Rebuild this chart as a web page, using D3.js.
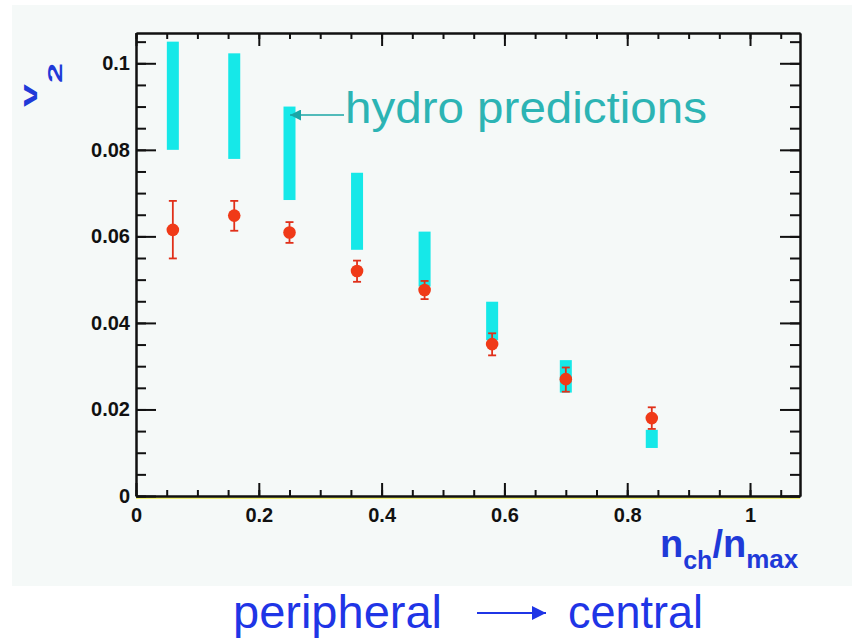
<!DOCTYPE html>
<html>
<head>
<meta charset="utf-8">
<script src="https://cdn.jsdelivr.net/npm/d3@7"></script>
<style>
  html, body { margin: 0; padding: 0; background: #ffffff; }
  svg { display: block; }
</style>
</head>
<body>
<script>
// ---- data ----
const xPos      = [0.06, 0.16, 0.25, 0.36, 0.47, 0.58, 0.70, 0.84];
const hydroHigh = [0.105, 0.1023, 0.090, 0.0747, 0.0611, 0.0449, 0.0314, 0.0153];
const hydroLow  = [0.080, 0.0779, 0.0684, 0.0569, 0.0484, 0.0360, 0.0239, 0.0111];
const v2Values  = [0.0615, 0.0648, 0.0609, 0.0520, 0.0476, 0.0351, 0.0270, 0.0180];
const v2ErrHigh = [0.0682, 0.0682, 0.0633, 0.0544, 0.0497, 0.0376, 0.0297, 0.0205];
const v2ErrLow  = [0.0549, 0.0613, 0.0585, 0.0495, 0.0455, 0.0325, 0.0241, 0.0155];
const yTickVals = [0, 0.02, 0.04, 0.06, 0.08, 0.1];
const yTickLabels = ["0", "0.02", "0.04", "0.06", "0.08", "0.1"];
const xTickVals = [0, 0.2, 0.4, 0.6, 0.8, 1];
const xTickLabels = ["0", "0.2", "0.4", "0.6", "0.8", "1"];

const W = 857, H = 639;
const L = 136, R = 800, T = 33, B = 496;

const svg = d3.select("body").append("svg").attr("width", W).attr("height", H);

// panel background
svg.append("rect").attr("x", 12).attr("y", 5).attr("width", 840).attr("height", 581)
   .attr("fill", "#f5f9f8");

const x = d3.scaleLinear().domain([0, 1.0814]).range([L, R]);
const y = d3.scaleLinear().domain([0, 0.107]).range([B, T]);

const font = "'Liberation Sans', Arial, Helvetica, sans-serif";

// yellow line under x axis
svg.append("line").attr("x1", L).attr("x2", R).attr("y1", B + 2).attr("y2", B + 2)
   .attr("stroke", "#f0f070").attr("stroke-width", 2);

// hydro bars
svg.append("g").selectAll("rect").data(xPos).join("rect")
   .attr("x", (d) => x(d) - 6)
   .attr("width", 12)
   .attr("y", (d, i) => y(hydroHigh[i]))
   .attr("height", (d, i) => y(hydroLow[i]) - y(hydroHigh[i]))
   .attr("fill", "#16e8e8");

// error bars
const eg = svg.append("g").attr("stroke", "#e0301a").attr("stroke-width", 1.8);
xPos.forEach((d, i) => {
  eg.append("line").attr("x1", x(d)).attr("x2", x(d)).attr("y1", y(v2ErrHigh[i])).attr("y2", y(v2ErrLow[i]));
  eg.append("line").attr("x1", x(d) - 4).attr("x2", x(d) + 4).attr("y1", y(v2ErrHigh[i])).attr("y2", y(v2ErrHigh[i]));
  eg.append("line").attr("x1", x(d) - 4).attr("x2", x(d) + 4).attr("y1", y(v2ErrLow[i])).attr("y2", y(v2ErrLow[i]));
});
svg.append("g").selectAll("circle").data(xPos).join("circle")
   .attr("cx", (d) => x(d)).attr("cy", (d, i) => y(v2Values[i])).attr("r", 6.3)
   .attr("fill", "#f03a18");

// axes
function styleAxis(g) {
  g.select(".domain").attr("stroke", "#111").attr("stroke-width", 2);
  g.selectAll(".tick line").attr("stroke", "#111").attr("stroke-width", 2);
  g.selectAll("text").attr("font-family", font).attr("font-weight", "bold")
   .attr("font-size", 20).attr("fill", "#111");
}
const xMinor = d3.range(0, 1.08, 0.05);
const yMinor = d3.range(0, 0.1071, 0.005);

// bottom
svg.append("g").attr("transform", `translate(0,${B})`)
   .call(d3.axisBottom(x).tickValues(xMinor).tickSize(-6).tickFormat("").tickSizeOuter(0)).call(styleAxis);
svg.append("g").attr("transform", `translate(0,${B})`)
   .call(d3.axisBottom(x).tickValues(xTickVals).tickSize(-13).tickPadding(12).tickSizeOuter(0)
   .tickFormat((d, i) => xTickLabels[i])).call(styleAxis);
// top
svg.append("g").attr("transform", `translate(0,${T})`)
   .call(d3.axisTop(x).tickValues(xMinor).tickSize(-6).tickFormat("").tickSizeOuter(0)).call(styleAxis);
svg.append("g").attr("transform", `translate(0,${T})`)
   .call(d3.axisTop(x).tickValues(xTickVals).tickSize(-13).tickFormat("").tickSizeOuter(0)).call(styleAxis);
// left
svg.append("g").attr("transform", `translate(${L},0)`)
   .call(d3.axisLeft(y).tickValues(yMinor).tickSize(-10).tickFormat("").tickSizeOuter(0)).call(styleAxis);
svg.append("g").attr("transform", `translate(${L},0)`)
   .call(d3.axisLeft(y).tickValues(yTickVals).tickSize(-20).tickPadding(6).tickSizeOuter(0)
   .tickFormat((d, i) => yTickLabels[i])).call(styleAxis);
// right
svg.append("g").attr("transform", `translate(${R},0)`)
   .call(d3.axisRight(y).tickValues(yMinor).tickSize(-10).tickFormat("").tickSizeOuter(0)).call(styleAxis);
svg.append("g").attr("transform", `translate(${R},0)`)
   .call(d3.axisRight(y).tickValues(yTickVals).tickSize(-20).tickFormat("").tickSizeOuter(0)).call(styleAxis);

// hydro annotation
const defs = svg.append("defs");
defs.append("marker").attr("id", "ah").attr("viewBox", "0 0 10 10").attr("refX", 10).attr("refY", 5)
   .attr("markerWidth", 16).attr("markerHeight", 11).attr("markerUnits", "userSpaceOnUse")
   .attr("orient", "auto")
   .append("path").attr("d", "M0,0 L10,5 L0,10 Z").attr("fill", "#1aa6a6");
svg.append("line").attr("x1", 344).attr("x2", 290).attr("y1", 115).attr("y2", 115)
   .attr("stroke", "#1aa6a6").attr("stroke-width", 1.6).attr("marker-end", "url(#ah)");
svg.append("text").attr("x", 345).attr("y", 123).attr("font-family", font).attr("font-size", 44)
   .attr("fill", "#2cb4b4").attr("textLength", 362).attr("lengthAdjust", "spacingAndGlyphs")
   .text("hydro predictions");

// y title v2 (rotated, stretched along text direction)
const vt = svg.append("text").attr("transform", "translate(37,107) rotate(-90) scale(1.8,1)")
   .attr("font-family", font).attr("font-weight", "bold").attr("fill", "#1f3ad8");
vt.append("tspan").attr("font-size", 23).text("v");
vt.append("tspan").attr("font-size", 20).attr("dx", 0.5).attr("dy", 25).text("2");

// x title n_ch / n_max
const xt = svg.append("text").attr("x", 660).attr("y", 557)
   .attr("font-family", font).attr("font-weight", "bold").attr("fill", "#1f3ad8");
xt.append("tspan").attr("font-size", 38).text("n");
xt.append("tspan").attr("font-size", 25).attr("dy", 12).text("ch");
xt.append("tspan").attr("font-size", 38).attr("dy", -12).text("/n");
xt.append("tspan").attr("font-size", 26).attr("dy", 11).text("max");

// bottom caption
svg.append("text").attr("x", 233).attr("y", 628).attr("font-family", font).attr("font-size", 46)
   .attr("fill", "#1f35e6").attr("textLength", 209).attr("lengthAdjust", "spacingAndGlyphs").text("peripheral");
svg.append("text").attr("x", 568).attr("y", 628).attr("font-family", font).attr("font-size", 46)
   .attr("fill", "#1f35e6").attr("textLength", 135).attr("lengthAdjust", "spacingAndGlyphs").text("central");
defs.append("marker").attr("id", "ab").attr("viewBox", "0 0 10 10").attr("refX", 10).attr("refY", 5)
   .attr("markerWidth", 18).attr("markerHeight", 14).attr("markerUnits", "userSpaceOnUse")
   .attr("orient", "auto")
   .append("path").attr("d", "M0,0 L10,5 L0,10 Z").attr("fill", "#1f35e6");
svg.append("line").attr("x1", 477).attr("x2", 546).attr("y1", 613).attr("y2", 613)
   .attr("stroke", "#1f35e6").attr("stroke-width", 2).attr("marker-end", "url(#ab)");
</script>
</body>
</html>
